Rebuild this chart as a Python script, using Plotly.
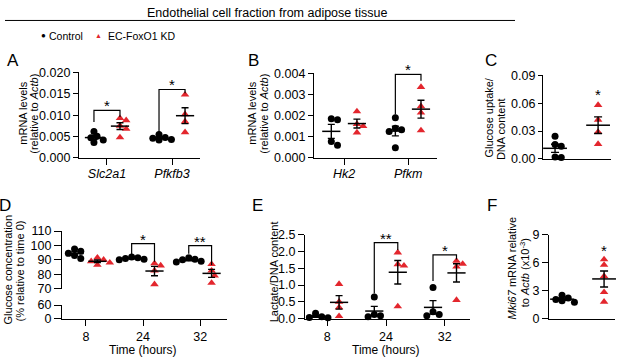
import numpy as np
import plotly.graph_objects as go

W, H = 617, 363
FONT = "Liberation Sans, Arial, sans-serif"
RED = "#e3262d"

# ---------------- data ----------------
A_categories = ["Slc2a1", "Pfkfb3"]
A_control = [[0.0062, 0.0051, 0.0047, 0.0042, 0.0036], [0.0055, 0.0048, 0.0046, 0.0043, 0.0042]]
A_kd = [[0.0093, 0.0088, 0.0075, 0.0068, 0.0048], [0.0148, 0.0102, 0.0085, 0.0060]]

B_categories = ["Hk2", "Pfkm"]
B_control = [[0.00185, 0.0018, 0.00078, 0.0006], [0.0019, 0.0014, 0.00133, 0.00125, 0.00048]]
B_kd = [[0.0022, 0.0016, 0.0015, 0.0012], [0.00335, 0.00244, 0.00214, 0.0013]]

C_control = [0.0245, 0.0155, 0.0135, 0.002, 0.0015]
C_kd = [0.058, 0.042, 0.029, 0.016]

D_times = ["8", "24", "32"]
D_control = [[97.5, 96, 94.5, 93, 91], [92, 91.5, 91, 90.5, 90], [91.5, 90.5, 90, 89, 88.5]]
D_kd = [[91.5, 90, 89, 88, 86.5], [87.5, 86, 82.5, 73], [87, 82.5, 79, 74]]

E_times = ["8", "24", "32"]
E_control = [[0.02, 0.03, 0.05, 0.16], [0.64, 0.12, 0.08, 0.05], [0.93, 0.2, 0.12, 0.08]]
E_kd = [[1.03, 0.5, 0.33, 0.07], [1.97, 1.62, 1.58, 0.36], [1.72, 1.63, 1.55, 0.55]]

F_control = [2.5, 2.2, 2.05, 1.9, 1.75]
F_kd = [6.35, 5.76, 4.55, 2.83, 1.8]

# significance brackets: (category index, top, left foot, right foot, label)
A_brackets = [(0, 0.0111, 0.0084, 0.0096, "*"), (1, 0.0160, 0.0058, 0.0151, "*")]
B_brackets = [(1, 0.00395, 0.00205, 0.00365, "*")]
D_brackets = [(1, 101.3, 93.8, 88.7, "*"), (2, 99.8, 94.2, 86.5, "**")]
E_brackets = [(1, 2.27, 0.75, 2.05, "**"), (2, 1.90, 1.12, 1.76, "*")]
C_star = 0.072
F_star = 7.66

# ---------------- layout helpers ----------------
fig = go.Figure()
layout = dict(width=W, height=H, margin=dict(l=0, r=0, t=0, b=0),
              paper_bgcolor="white", plot_bgcolor="white",
              font=dict(family=FONT, color="black", size=12),
              showlegend=False, shapes=[], annotations=[])

OFF = 0.2
LW = 1.3


def k(ax, n):
    return ax if n == 1 else f"{ax}{n}"


panel_geom = {}


def add_axes(n, xpx, ypx, xr, yr, ytickvals, yfmt, xtickvals, xticktext, yanchor_n=None,
             xstand=0, yticklen=5):
    ya = yanchor_n if yanchor_n else n
    xa = dict(domain=[xpx[0] / W, xpx[1] / W], range=list(xr), anchor=k("y", ya),
              showline=True, linecolor="black", linewidth=LW, showgrid=False, zeroline=False,
              tickfont=dict(size=12.5), fixedrange=True)
    if xtickvals:
        xa.update(tickvals=xtickvals, ticktext=xticktext, ticks="outside", ticklen=6, tickwidth=LW,
                  tickcolor="black", ticklabelstandoff=xstand)
    else:
        xa.update(showticklabels=False, ticks="")
    layout[k("xaxis", n)] = xa
    layout[k("yaxis", n)] = dict(domain=[1 - ypx[1] / H, 1 - ypx[0] / H], range=list(yr), anchor=k("x", n),
                                 tickvals=ytickvals, tickformat=yfmt, showline=True, linecolor="black",
                                 linewidth=LW, ticks="outside", ticklen=yticklen, tickwidth=LW,
                                 tickcolor="black", showgrid=False, zeroline=False,
                                 tickfont=dict(size=12.5), fixedrange=True)
    ppx = (xpx[1] - xpx[0]) / (xr[1] - xr[0])
    ppy = (ypx[1] - ypx[0]) / (yr[1] - yr[0])
    panel_geom[n] = (ppx, ppy)


def swarm(vals, xc, ppx, ppy, d=6.2):
    vals = np.asarray(vals, float)
    order = np.argsort(-vals)
    placed = []
    xs = np.zeros(len(vals))
    steps = [0, 0.5, -0.5, 1, -1, 1.5, -1.5, 2, -2]
    for i in order:
        yp = vals[i] * ppy
        for s in steps:
            xp = s * d
            if all((xp - a) ** 2 + (yp - b) ** 2 >= (d * 0.9) ** 2 for a, b in placed):
                break
        placed.append((xp, yp))
        xs[i] = xc + xp / ppx
    return xs


def add_group(n, xc, vals, kind, mean_size=13, cap=3.5):
    ppx, ppy = panel_geom[n]
    xs = swarm(vals, xc, ppx, ppy)
    if kind == "ctrl":
        mk = dict(symbol="circle", size=7, color="black")
    else:
        mk = dict(symbol="triangle-up", size=7.5, color=RED)
    xa, ya = k("x", n), k("y", n)
    fig.add_trace(go.Scatter(x=xs, y=vals, mode="markers", marker=mk, xaxis=xa, yaxis=ya,
                             cliponaxis=False, hoverinfo="skip"))
    m = float(np.mean(vals))
    s = float(np.std(vals, ddof=1) / np.sqrt(len(vals)))
    fig.add_trace(go.Scatter(x=[xc], y=[m], mode="markers",
                             marker=dict(symbol="line-ew", size=mean_size, color="black",
                                         line=dict(width=1.5, color="black")),
                             error_y=dict(type="data", array=[s], visible=True, width=cap,
                                          thickness=1.4, color="black"),
                             xaxis=xa, yaxis=ya, cliponaxis=False, hoverinfo="skip"))


def add_bracket(n, ci, top, lf, rf, label):
    xa, ya = k("x", n), k("y", n)
    x0, x1 = ci - OFF, ci + OFF
    layout["shapes"].append(dict(type="path", xref=xa, yref=ya,
                                 path=f"M {x0},{lf} L {x0},{top} L {x1},{top} L {x1},{rf}",
                                 line=dict(color="black", width=1.2)))
    layout["annotations"].append(dict(x=ci, y=top, xref=xa, yref=ya, text=label, showarrow=False,
                                      yanchor="bottom", yshift=-6, font=dict(size=15)))


def ann(xp, yp, text, size=11, angle=0, xanchor="center", yanchor="middle", color="black"):
    layout["annotations"].append(dict(x=xp / W, y=1 - yp / H, xref="paper", yref="paper", text=text,
                                      showarrow=False, textangle=angle, xanchor=xanchor, yanchor=yanchor,
                                      font=dict(size=size, color=color)))


# ---------------- Panel A ----------------
add_axes(1, (79, 200), (68, 157), (-0.43, 1.43), (0, 0.02), [0, 0.005, 0.01, 0.015, 0.02], ".3f",
         [0, 1], [f"<i>{c}</i>" for c in A_categories], xstand=-2)
for i in range(2):
    add_group(1, i - OFF, A_control[i], "ctrl")
    add_group(1, i + OFF, A_kd[i], "kd")
for b in A_brackets:
    add_bracket(1, *b)

# ---------------- Panel B ----------------
add_axes(2, (314, 437), (69, 157), (-0.47, 1.45), (0, 0.004), [0, 0.001, 0.002, 0.003, 0.004], ".3f",
         [0, 1], [f"<i>{c}</i>" for c in B_categories], xstand=-2)
for i in range(2):
    add_group(2, i - OFF, B_control[i], "ctrl")
    add_group(2, i + OFF, B_kd[i], "kd")
for b in B_brackets:
    add_bracket(2, *b)

# ---------------- Panel C ----------------
add_axes(3, (543, 611), (71, 158), (-0.28, 1.30), (0, 0.09), [0, 0.03, 0.06, 0.09], ".2f", [], [],
         yticklen=4)
add_group(3, 0, C_control, "ctrl", mean_size=17, cap=4)
add_group(3, 1, C_kd, "kd", mean_size=17, cap=4)
layout["annotations"].append(dict(x=1, y=C_star, xref="x3", yref="y3", text="*", showarrow=False,
                                  yanchor="middle", yshift=-3, font=dict(size=15)))

# ---------------- Panel D (broken axis) ----------------
add_axes(4, (62, 227), (233, 293), (-0.42, 2.47), (70, 110), [70, 80, 90, 100, 110], "d",
         [0, 1, 2], D_times, yanchor_n=7, xstand=0, yticklen=7)
layout["yaxis7"] = dict(domain=[1 - 324 / H, 1 - 310 / H], range=[0, 60], anchor="x4", tickvals=[0, 60],
                        showline=True, linecolor="black", linewidth=LW, ticks="outside", ticklen=7,
                        tickwidth=LW, tickcolor="black", showgrid=False, zeroline=False,
                        tickfont=dict(size=12.5), fixedrange=True)
fig.add_trace(go.Scatter(x=[None], y=[None], xaxis="x4", yaxis="y7", hoverinfo="skip"))
for i in range(3):
    add_group(4, i - OFF, D_control[i], "ctrl")
    add_group(4, i + OFF, D_kd[i], "kd")
for b in D_brackets:
    add_bracket(4, *b)

# ---------------- Panel E ----------------
add_axes(5, (305, 470), (237, 324), (-0.38, 2.43), (0, 2.5), [0, 0.5, 1.0, 1.5, 2.0, 2.5], ".1f",
         [0, 1, 2], E_times, xstand=0, yticklen=6)
for i in range(3):
    add_group(5, i - OFF, E_control[i], "ctrl")
    add_group(5, i + OFF, E_kd[i], "kd")
for b in E_brackets:
    add_bracket(5, *b)

# ---------------- Panel F ----------------
add_axes(6, (549, 615), (237, 324), (-0.31, 1.26), (0, 9), [0, 3, 6, 9], "d", [], [], yticklen=6)
add_group(6, 0, F_control, "ctrl", mean_size=17, cap=4)
add_group(6, 1, F_kd, "kd", mean_size=17, cap=4)
layout["annotations"].append(dict(x=1, y=F_star, xref="x6", yref="y6", text="*", showarrow=False,
                                  yanchor="middle", yshift=-3, font=dict(size=15)))

# ---------------- text ----------------
ann(267, 6.5, "Endothelial cell fraction from adipose tissue", size=12.5)
layout["shapes"].append(dict(type="line", xref="paper", yref="paper", x0=5 / W, x1=515 / W,
                             y0=1 - 14 / H, y1=1 - 14 / H, line=dict(color="black", width=1)))
ann(43, 30, "●", size=8)
ann(47, 30, "Control", size=10.5, xanchor="left")
ann(98, 29.5, "▲", size=7, color=RED)
ann(106, 30, "EC-FoxO1 KD", size=10.5, xanchor="left")

for lab, xp, yp in [("A", 13, 56), ("B", 253, 56), ("C", 491, 56), ("D", 5, 206), ("E", 257, 206), ("F", 492, 206)]:
    ann(xp, yp, lab, size=17)

# y-axis titles, one annotation per line
ann(23, 111, "mRNA levels", angle=-90)
ann(34, 111, "(relative to <i>Actb</i>)", angle=-90)
ann(252, 111, "mRNA levels", angle=-90)
ann(264, 111, "(relative to <i>Actb</i>)", angle=-90)
ann(489, 115, "Glucose uptake/", angle=-90)
ann(501, 127, "DNA content", angle=-90)
ann(8, 274, "Glucose concentration", angle=-90)
ann(20, 275, "(% relative to time 0)", angle=-90)
ann(274, 276, "Lactate/DNA content", angle=-90)
ann(512, 272, "<i>Mki67</i> mRNA relative", angle=-90)
ann(525, 277, "to <i>Actb</i> (x10<sup>-3</sup>)", angle=-90)
ann(143, 356.5, "Time (hours)", size=12)
ann(386, 356.5, "Time (hours)", size=12)

fig.update_layout(**layout)
fig.write_html("out.html", config={"displayModeBar": False},
               post_script="document.body.style.margin='0';document.body.style.overflow='hidden';")
